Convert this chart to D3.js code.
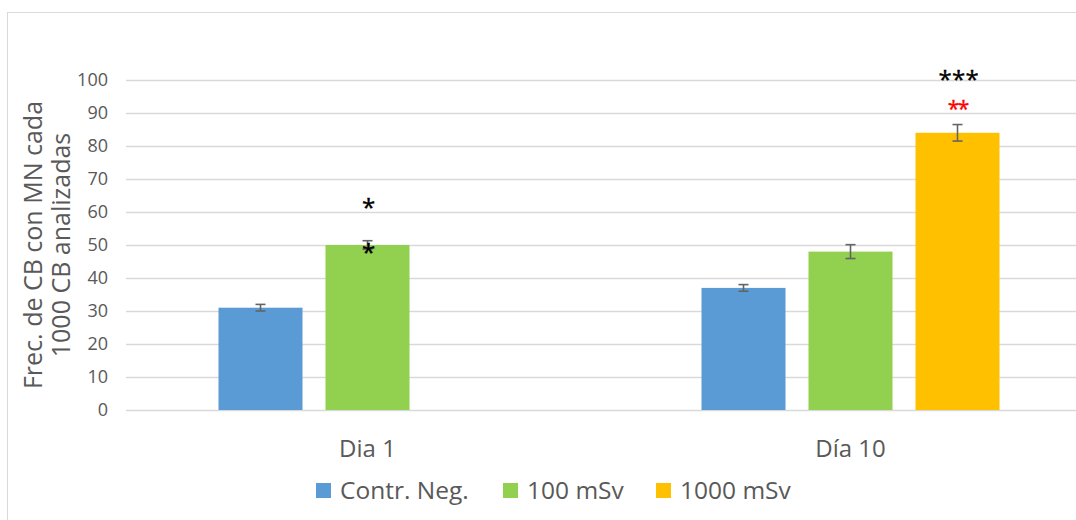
<!DOCTYPE html>
<html><head><meta charset="utf-8">
<script src="https://cdn.jsdelivr.net/npm/d3@7"></script>
<style>body{margin:0;background:#fff}svg{display:block}</style>
</head><body>
<svg id="c" width="1076" height="520"></svg>
<script>
const categories = ["Dia 1", "Día 10"];
const seriesNames = ["Contr. Neg.", "100 mSv", "1000 mSv"];
const seriesColors = ["#5B9BD5", "#92D050", "#FFC000"];
const contrNeg = [31, 37];
const mSv100 = [50, 48];
const mSv1000 = [null, 84];
const errContr = [1, 1];
const err100 = [1.3, 2.1];
const err1000 = [null, 2.5];
const yTicks = [0, 10, 20, 30, 40, 50, 60, 70, 80, 90, 100];
// significance marks: [category, series, value level, text, color]
const sigMarks = [
  ["Dia 1", 1, 63.2, "*", "#000"],
  ["Dia 1", 1, 49.6, "*", "#000"],
  ["Día 10", 2, 102.2, "***", "#000"],
  ["Día 10", 2, 92.9, "**", "#FF0000"]
];

(function () {
const svg = d3.select("#c");
const font = "'Open Sans', sans-serif";
const pLeft = 126, pRight = 1092, pTop = 80, pBottom = 410;

svg.append("rect").attr("x", 7.5).attr("y", 12.5).attr("width", 1100).attr("height", 600)
  .attr("fill", "none").attr("stroke", "#D9D9D9");

const x0 = d3.scaleBand().domain(categories).range([pLeft, pRight]);
const x1 = d3.scaleBand().domain(d3.range(3)).range([0, 298]).paddingInner(23/107).paddingOuter(0);
const y = d3.scaleLinear().domain([0, 100]).range([pBottom, pTop]);

svg.append("g").selectAll("line").data(yTicks).join("line")
  .attr("x1", pLeft).attr("x2", pRight)
  .attr("y1", d => Math.round(y(d)) + 0.5).attr("y2", d => Math.round(y(d)) + 0.5)
  .attr("stroke", "#D9D9D9").attr("stroke-width", 1.3);

const yAxis = svg.append("g").attr("transform", `translate(${pLeft},0)`)
  .call(d3.axisLeft(y).tickValues(yTicks).tickSize(0).tickPadding(18));
yAxis.select(".domain").remove();
yAxis.selectAll("text").attr("font-family", font).attr("font-size", 18).attr("fill", "#595959");

const series = [contrNeg, mSv100, mSv1000];
const errs = [errContr, err100, err1000];
const groupStart = c => x0(c) + (x0.bandwidth() - 298) / 2;

categories.forEach((c, ci) => {
  const g = svg.append("g");
  series.forEach((s, si) => {
    const v = s[ci];
    if (v == null) return;
    const bx = groupStart(c) + x1(si);
    g.append("rect").attr("x", bx).attr("y", y(v)).attr("width", x1.bandwidth())
      .attr("height", y(0) - y(v)).attr("fill", seriesColors[si]);
  });
  series.forEach((s, si) => {
    const v = s[ci], e = errs[si][ci];
    if (v == null) return;
    const cx = groupStart(c) + x1(si) + x1.bandwidth() / 2;
    const ge = g.append("g").attr("stroke", "#646464").attr("stroke-width", 1.6);
    ge.append("line").attr("x1", cx).attr("x2", cx).attr("y1", y(v + e)).attr("y2", y(v - e));
    ge.append("line").attr("x1", cx - 5).attr("x2", cx + 5).attr("y1", y(v + e)).attr("y2", y(v + e));
    ge.append("line").attr("x1", cx - 5).attr("x2", cx + 5).attr("y1", y(v - e)).attr("y2", y(v - e));
  });
});

sigMarks.forEach(([c, si, lvl, t, col]) => {
  const cx = groupStart(c) + x1(si) + x1.bandwidth() / 2 + 1;
  const chars = t.split("");
  const pitch = chars.length === 2 ? 10 : 13.5;
  const fs = chars.length === 2 ? 21 : 24;
  chars.forEach((ch, i) => {
    svg.append("text").attr("x", cx + (i - (chars.length - 1) / 2) * pitch)
      .attr("y", y(lvl) + fs * 0.62).attr("text-anchor", "middle")
      .attr("font-family", font).attr("font-size", fs).attr("fill", col)
      .attr("stroke", col).attr("stroke-width", 0.4).text(ch);
  });
});

svg.append("g").selectAll("text").data(categories).join("text")
  .attr("x", d => x0(d) + x0.bandwidth() / 2).attr("y", 457).attr("text-anchor", "middle")
  .attr("font-family", font).attr("font-size", 24).attr("fill", "#595959").text(d => d);

const yt = svg.append("text").attr("transform", "translate(0,245) rotate(-90)")
  .attr("text-anchor", "middle").attr("font-family", font).attr("font-size", 25).attr("fill", "#595959");
yt.append("tspan").attr("x", 0).attr("y", 42).text("Frec. de CB con MN cada");
yt.append("tspan").attr("x", 0).attr("y", 70).text("1000 CB analizadas");

const legX = [316, 503, 656];
const leg = svg.append("g").selectAll("g").data(seriesNames).join("g")
  .attr("transform", (d, i) => `translate(${legX[i]},483)`);
leg.append("rect").attr("width", 15).attr("height", 15).attr("fill", (d, i) => seriesColors[i]);
leg.append("text").attr("x", 24).attr("y", 16).attr("font-family", font).attr("font-size", 24.5)
  .attr("fill", "#595959").text(d => d);
})();
</script>
</body></html>
